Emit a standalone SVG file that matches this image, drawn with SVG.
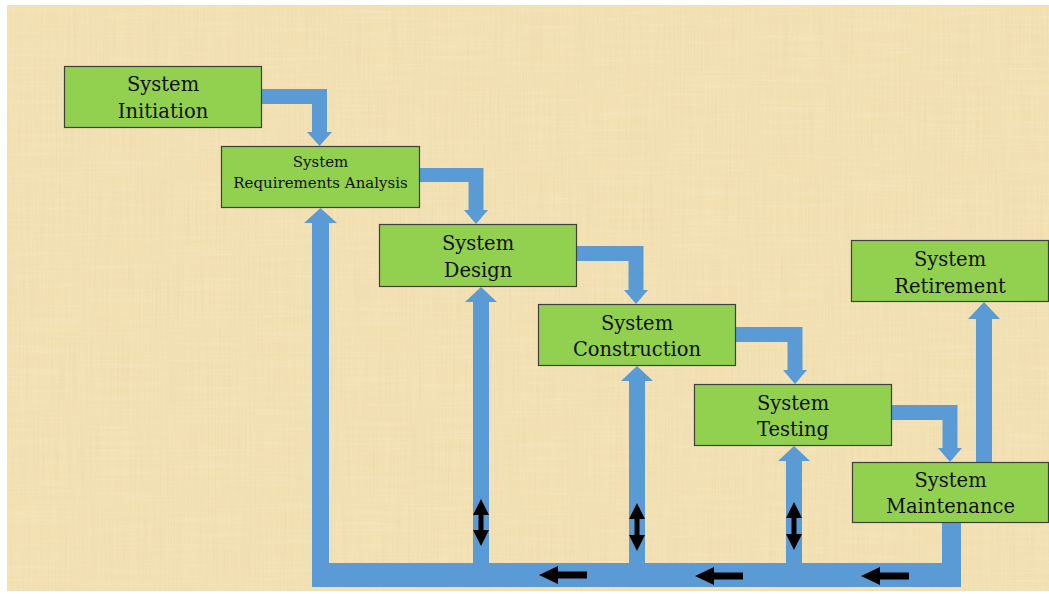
<svg xmlns="http://www.w3.org/2000/svg" width="1049" height="594" viewBox="0 0 1049 594">
  <style>
    .box { fill: #92D050; stroke: #3f3f3f; stroke-width: 1.2; }
    .flow { fill: #5B9BD5; }
    .mark { fill: #000000; }
    .lbl { font-family: "DejaVu Serif", "Liberation Serif", serif; font-size: 19.5px; fill: #111111; text-anchor: middle; }
    .lbl-sm { font-family: "DejaVu Serif", "Liberation Serif", serif; font-size: 15px; fill: #111111; text-anchor: middle; }
  </style>
  <defs>
    <!-- papyrus-like fibre texture -->
    <filter id="fibreV" x="0" y="0" width="100%" height="100%">
      <feTurbulence type="fractalNoise" baseFrequency="0.6 0.012" numOctaves="2" seed="3" result="n"/>
      <feColorMatrix in="n" type="matrix" values="0 0 0 0 0.62  0 0 0 0 0.50  0 0 0 0 0.28  0 0 0 -0.9 0.55"/>
    </filter>
    <filter id="fibreH" x="0" y="0" width="100%" height="100%">
      <feTurbulence type="fractalNoise" baseFrequency="0.012 0.5" numOctaves="2" seed="9" result="n"/>
      <feColorMatrix in="n" type="matrix" values="0 0 0 0 0.98  0 0 0 0 0.95  0 0 0 0 0.85  0 0 0 -0.9 0.52"/>
    </filter>
  </defs>

  <!-- page and parchment backdrop -->
  <rect x="0" y="0" width="1049" height="594" fill="#ffffff"/>
  <rect x="7" y="5" width="1042" height="586" fill="#F3E1B3"/>
  <rect x="7" y="5" width="1042" height="586" filter="url(#fibreV)" opacity="0.3"/>
  <rect x="7" y="5" width="1042" height="586" filter="url(#fibreH)" opacity="0.35"/>

  <!-- connectors -->
  <g id="connectors">
    <!-- stage-to-stage elbow arrows -->
    <path class="flow" d="M262,89 H327 V132 H332 L319.5,146 L307,132 H312 V104 H262 Z"/>
    <path class="flow" d="M420,168 H483.5 V210 H488 L476,224 L464,210 H468.5 V182 H420 Z"/>
    <path class="flow" d="M577,246 H643.5 V290 H648 L636,304 L624,290 H628.5 V261 H577 Z"/>
    <path class="flow" d="M736,327 H802.5 V370 H807 L795,384 L783,370 H787.5 V342 H736 Z"/>
    <path class="flow" d="M892,405 H957.5 V448 H962 L950,462 L938,448 H942.5 V420 H892 Z"/>

    <!-- feedback loop back to requirements -->
    <path class="flow" d="M942,523 H961 V587 H312 V223 H304 L320.5,208 L337,223 H329 V563 H942 Z"/>

    <!-- feedback risers -->
    <path class="flow" d="M473,565 V302 H465 L481,287 L497,302 H489 V565 Z"/>
    <path class="flow" d="M629,565 V381 H621 L637,366 L653,381 H645 V565 Z"/>
    <path class="flow" d="M786,565 V461 H778 L794,446 L810,461 H802 V565 Z"/>

    <!-- maintenance to retirement -->
    <path class="flow" d="M976,462 V319 H968 L984,302 L1000,319 H992 V462 Z"/>

    <!-- two-way markers on risers -->
    <path class="mark" d="M481,499 L489,515 H483.5 V530 H489 L481,546 L473,530 H478.5 V515 H473 Z"/>
    <path class="mark" d="M637,503 L645,519 H639.5 V535 H645 L637,551 L629,535 H634.5 V519 H629 Z"/>
    <path class="mark" d="M794,502 L802,518 H796.5 V534 H802 L794,550 L786,534 H791.5 V518 H786 Z"/>

    <!-- flow direction markers on the loop -->
    <path class="mark" d="M539,575 L558,566 V571.5 H587 V578.5 H558 V584 Z"/>
    <path class="mark" d="M695,576 L714,567 V572.5 H743 V579.5 H714 V585 Z"/>
    <path class="mark" d="M861,576 L880,567 V572.5 H909 V579.5 H880 V585 Z"/>
  </g>

  <g id="node-initiation">
    <rect class="box" x="64.5" y="66.5" width="197" height="61"/>
    <text class="lbl" x="163" y="91">System</text>
    <text class="lbl" x="163" y="118">Initiation</text>
  </g>

  <g id="node-requirements">
    <rect class="box" x="221.5" y="146.5" width="198" height="61"/>
    <text class="lbl-sm" x="320.5" y="167">System</text>
    <text class="lbl-sm" x="320.5" y="188">Requirements Analysis</text>
  </g>

  <g id="node-design">
    <rect class="box" x="379.5" y="224.5" width="197" height="62"/>
    <text class="lbl" x="478" y="250">System</text>
    <text class="lbl" x="478" y="277">Design</text>
  </g>

  <g id="node-construction">
    <rect class="box" x="538.5" y="304.5" width="197" height="61"/>
    <text class="lbl" x="637" y="329.5">System</text>
    <text class="lbl" x="637" y="356">Construction</text>
  </g>

  <g id="node-testing">
    <rect class="box" x="694.5" y="384.5" width="197" height="61"/>
    <text class="lbl" x="793" y="409.5">System</text>
    <text class="lbl" x="793" y="436">Testing</text>
  </g>

  <g id="node-retirement">
    <rect class="box" x="851.5" y="240.5" width="197" height="61"/>
    <text class="lbl" x="950" y="266">System</text>
    <text class="lbl" x="950" y="293">Retirement</text>
  </g>

  <g id="node-maintenance">
    <rect class="box" x="852.5" y="462.5" width="196" height="60"/>
    <text class="lbl" x="950.5" y="487">System</text>
    <text class="lbl" x="950.5" y="513">Maintenance</text>
  </g>
</svg>
